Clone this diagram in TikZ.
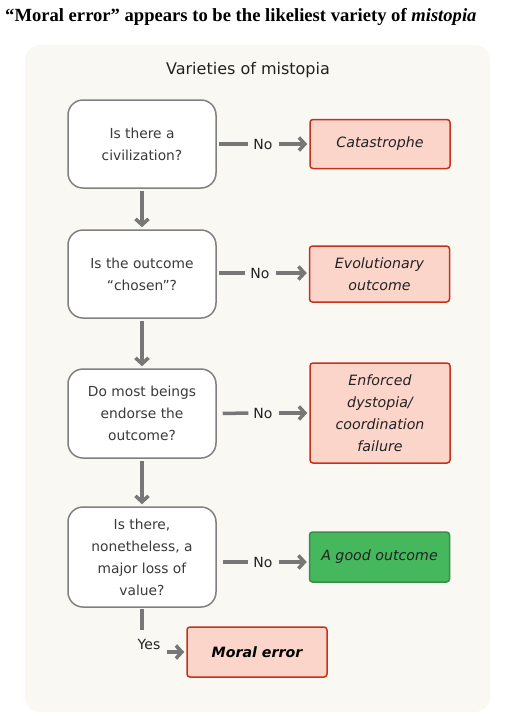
\documentclass[tikz,border=0pt]{standalone}
\usepackage{fontspec}
\setmainfont{DejaVu Sans}
\newfontfamily\titlefont{Liberation Serif}
\usetikzlibrary{arrows.meta}
\definecolor{bgc}{HTML}{FAF8F3}
\definecolor{qborder}{HTML}{808080}
\definecolor{arrowc}{HTML}{777777}
\definecolor{redfill}{HTML}{FCD5CA}
\definecolor{redborder}{HTML}{C4321C}
\definecolor{greenfill}{HTML}{45B85E}
\definecolor{greenborder}{HTML}{3A8C4C}
\definecolor{qtext}{HTML}{3A3A3A}
\definecolor{ltext}{HTML}{222222}
\begin{document}
\begin{tikzpicture}[x=1pt,y=-1pt,
  qbox/.style={draw=qborder, fill=white, line width=1.5pt, rounded corners=15pt,
    minimum width=148pt, align=center, text=qtext, font=\fontsize{13.8}{22}\selectfont, inner sep=0pt},
  rbox/.style={draw=redborder, fill=redfill, line width=1.5pt, rounded corners=3pt,
    minimum width=140pt, align=center, text=ltext, font=\fontsize{14.2}{22}\selectfont\itshape, inner sep=0pt},
  gbox/.style={draw=greenborder, fill=greenfill, line width=1.5pt, rounded corners=3pt,
    minimum width=140pt, align=center, text=ltext, font=\fontsize{14.2}{22}\selectfont\itshape, inner sep=0pt},
  lbl/.style={inner sep=0pt, text=ltext, font=\fontsize{14}{16}\selectfont},
  conn/.style={draw=arrowc, line width=3.5pt},
  arr/.style={conn, -{Straight Barb[length=6pt,width=13pt]}},
]
\useasboundingbox (0,0) rectangle (515,716);
\fill[bgc, rounded corners=15pt] (25,45) rectangle (490,712);

\node[anchor=base west, inner sep=0pt, font=\titlefont\fontsize{18.6}{22}\selectfont\bfseries] (title) at (5,21)
  {“Moral error” appears to be the likeliest variety of \textit{mistopia}};
\node[inner sep=0pt, anchor=base, font=\fontsize{16}{18}\selectfont, text=ltext] (sub) at (248,74) {Varieties of mistopia};

\node[qbox, minimum height=88pt] (q1) at (142,144) {Is there a\\civilization?};
\node[qbox, minimum height=88pt] (q2) at (142,274) {Is the outcome\\“chosen”?};
\node[qbox, minimum height=89pt] (q3) at (142,413.5) {Do most beings\\endorse the\\outcome?};
\node[qbox, minimum height=100pt] (q4) at (142,557) {Is there,\\nonetheless, a\\major loss of\\value?};

\node[rbox, minimum height=49pt] (r1) at (380,144) {Catastrophe};
\node[rbox, minimum height=56pt] (r2) at (379.5,274) {Evolutionary\\outcome};
\node[rbox, minimum height=100pt] (r3) at (380,413) {Enforced\\dystopia/\\coordination\\failure};
\node[gbox, minimum height=50pt] (r4) at (379.5,557) {A good outcome};
\node[rbox, minimum height=50pt, font=\fontsize{14.2}{22}\selectfont\bfseries\itshape, text=black] (r5) at (257,652) {Moral error};

\node[lbl] (no1) at (263,144) {No};
\node[lbl] (no2) at (260,273) {No};
\node[lbl] (no3) at (263,413) {No};
\node[lbl] (no4) at (263,562) {No};
\node[lbl] (yes) at (149,644) {Yes};

\draw[conn, shorten <=2pt, shorten >=5pt] (q1.east) -- (no1.west);
\draw[arr, shorten <=6pt, shorten >=2pt] (no1.east) -- (r1.west);
\draw[conn, shorten <=2pt, shorten >=5pt] (q2.east |- no2.center) -- (no2.west);
\draw[arr, shorten <=6pt, shorten >=2pt] (no2.east) -- (r2.west |- no2.center);
\draw[conn, shorten <=6pt, shorten >=5pt] (q3.east) -- (no3.west);
\draw[arr, shorten <=6pt, shorten >=2pt] (no3.east) -- (r3.west);
\draw[conn, shorten <=6pt, shorten >=5pt] (q4.east |- no4.center) -- (no4.west);
\draw[arr, shorten <=6pt, shorten >=2pt] (no4.east) -- (r4.west |- no4.center);

\draw[arr, shorten <=2pt, shorten >=2pt] (q1.south) -- (q2.north);
\draw[arr, shorten <=2pt, shorten >=2pt] (q2.south) -- (q3.north);
\draw[arr, shorten <=2pt, shorten >=2pt] (q3.south) -- (q4.north);
\draw[conn, shorten <=1pt] (q4.south) -- (q4.south |- 0,630);
\draw[arr, shorten <=6pt, shorten >=2pt] (yes.east |- r5.west) -- (r5.west);
\end{tikzpicture}
\end{document}
